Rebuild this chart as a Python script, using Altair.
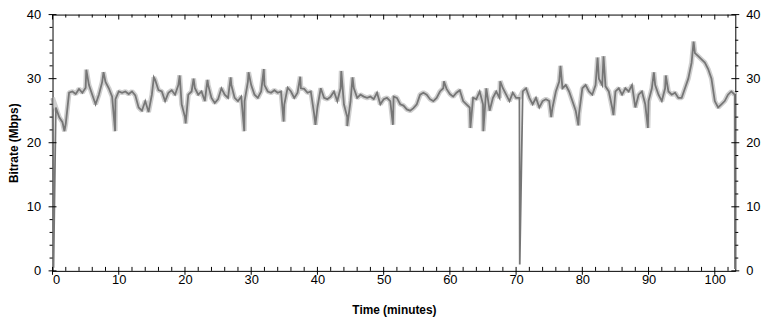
import altair as alt
import pandas as pd

# ---- data ----
t_start = 0.0
t_step = 0.5
bitrate = [
    27.0, 25.5, 24.0, 23.2, 23.0, 27.8, 28.0, 27.6, 28.4, 27.8,
    28.6, 29.0, 27.5, 26.0, 27.5, 29.5, 29.5, 28.5, 27.2, 26.8,
    28.0, 27.8, 28.0, 27.6, 28.0, 27.4, 25.5, 25.0, 26.5, 24.8,
    27.5, 29.8, 28.2, 28.0, 26.5, 27.8, 28.2, 27.5, 29.0, 26.0,
    24.0, 27.5, 28.0, 28.5, 27.5, 28.0, 26.5, 29.0, 27.0, 26.2,
    26.8, 28.5, 27.5, 27.0, 29.0, 27.0, 26.5, 27.2, 26.5, 29.5,
    29.0, 27.5, 27.0, 28.0, 29.0, 28.0, 27.8, 28.2, 27.8, 28.0,
    26.0, 28.6, 28.0, 27.0, 27.8, 28.5, 28.4, 27.8, 28.0, 24.5,
    25.5, 28.5, 27.0, 26.8, 27.2, 28.0, 26.5, 28.5, 26.0, 24.0,
    26.5, 28.5, 27.0, 27.5, 27.2, 27.0, 27.2, 26.8, 27.8, 26.0,
    26.8, 27.0, 26.5, 27.2, 27.0, 26.0, 25.8, 25.2, 25.0, 25.4,
    26.0, 27.5, 27.8, 27.5, 26.8, 26.5, 27.0, 28.0, 28.5, 28.4,
    27.6, 27.2, 27.8, 28.2, 26.5, 26.0, 25.5, 27.0, 26.8, 28.0,
    26.0, 28.5, 25.0, 27.0, 28.0, 27.0, 28.5, 27.5, 26.5, 27.8,
    27.0, 27.0, 28.0, 28.5, 27.0, 26.0, 27.0, 25.5, 26.5, 26.8,
    26.5, 25.5, 28.0, 29.5, 28.5, 29.0, 28.0, 26.5, 25.0, 24.5,
    28.5, 29.0, 28.0, 27.5, 29.0, 30.0, 29.0, 28.8, 28.0, 25.5,
    28.0, 28.5, 27.5, 28.5, 28.0, 29.0, 25.5, 27.5, 28.0, 26.0,
    26.5, 28.5, 29.0, 27.5, 26.5, 28.5, 28.0, 27.5, 27.8, 27.0,
    27.0, 28.5, 30.0, 32.5, 34.0, 33.5, 33.0, 32.5, 31.5, 30.0,
    26.5, 25.5, 26.0, 26.5, 27.5, 28.0, 27.5,
]
spike_time = [0.15, 1.8, 5.1, 7.7, 9.45, 15.3, 19.2, 20.1, 21.3, 23.4,
              26.9, 28.95, 29.6, 31.9, 34.9, 37.4, 39.7, 43.6, 44.5, 45.3,
              51.4, 59.1, 63.1, 65.05, 67.6, 70.55, 75.3, 76.7, 79.4, 82.3,
              83.2, 84.7, 89.9, 90.8, 92.6, 96.8, 103.05]
spike_rate = [0.5, 21.8, 31.4, 31.0, 21.8, 30.2, 30.5, 23.0, 30.0, 29.8,
              30.2, 21.8, 31.0, 31.5, 23.3, 30.3, 22.8, 31.2, 22.6, 30.2,
              22.8, 29.6, 22.3, 21.8, 29.6, 1.0, 24.0, 32.0, 22.7, 33.3,
              33.5, 24.3, 22.3, 31.0, 30.5, 35.8, 0.3]

x_major = [0, 10, 20, 30, 40, 50, 60, 70, 80, 90, 100]
x_minor = [v for v in range(2, 104, 2) if v % 10 != 0]
y_major = [0, 10, 20, 30, 40]
y_minor = [v for v in range(2, 40, 2) if v % 10 != 0]

x_domain = [0, 103.1]
y_domain = [0, 40]

# ---- build table ----
times = [t_start + i * t_step for i in range(len(bitrate))]
df = pd.DataFrame({"t": times + spike_time, "r": bitrate + spike_rate})
df = df.sort_values("t").reset_index(drop=True)

W, H = 690, 259
FONT = "Liberation Sans"
xs = alt.Scale(domain=x_domain, nice=False, zero=False)
ys = alt.Scale(domain=y_domain, nice=False)

x_axis = alt.Axis(values=x_major, ticks=False, domain=False, grid=False,
                  labelPadding=3, labelFontSize=13, labelFont=FONT,
                  labelColor="black", title="Time (minutes)",
                  titleFont=FONT, titleFontSize=12, titleFontWeight="bold",
                  titleColor="black", titlePadding=18)
y_axis = alt.Axis(values=y_major, ticks=False, domain=False, grid=False,
                  labelPadding=12, labelFontSize=13, labelFont=FONT,
                  labelColor="black", title="Bitrate (Mbps)",
                  titleFont=FONT, titleFontSize=12, titleFontWeight="bold",
                  titleColor="black", titlePadding=6)

base = alt.Chart(df)
light = base.mark_line(color="#cfcfcf", strokeWidth=5, strokeJoin="bevel").encode(
    x=alt.X("t:Q", scale=xs, axis=x_axis),
    y=alt.Y("r:Q", scale=ys, axis=y_axis),
).transform_filter("datum.r > 10")
dark = base.mark_line(color="#767676", strokeWidth=1.8).encode(
    x=alt.X("t:Q", scale=xs),
    y=alt.Y("r:Q", scale=ys),
)

def xticks(vals, y1, y2):
    return alt.Chart(pd.DataFrame({"t": vals})).mark_rule(color="black", strokeWidth=1).encode(
        x=alt.X("t:Q", scale=xs), y=alt.value(y1), y2=alt.value(y2))

def yticks(vals, x1, x2):
    return alt.Chart(pd.DataFrame({"r": vals})).mark_rule(color="black", strokeWidth=1).encode(
        y=alt.Y("r:Q", scale=ys), x=alt.value(x1), x2=alt.value(x2))

right_labels = alt.Chart(pd.DataFrame({"r": y_major})).mark_text(
    align="left", baseline="middle", font=FONT, fontSize=13, color="black"
).encode(y=alt.Y("r:Q", scale=ys), x=alt.value(W + 11), text=alt.Text("r:Q"))

layers = [
    light, dark,
    xticks(x_major, H - 4, H + 4), xticks(x_minor, H - 4, H),
    xticks(x_major, 0, 5), xticks(x_minor, 0, 3),
    yticks(y_major, -4, 4), yticks(y_minor, -3, 0),
    yticks(y_major, W - 4, W + 4), yticks(y_minor, W, W + 3),
    right_labels,
]

chart = alt.layer(*layers).properties(
    width=W, height=H,
    autosize=alt.AutoSizeParams(type="none"),
    padding={"left": 45, "top": 5, "right": 30, "bottom": 48},
    background="white",
).configure_view(stroke="black", strokeWidth=1)

chart.save("out.html", embed_options={"renderer": "svg", "actions": False})
